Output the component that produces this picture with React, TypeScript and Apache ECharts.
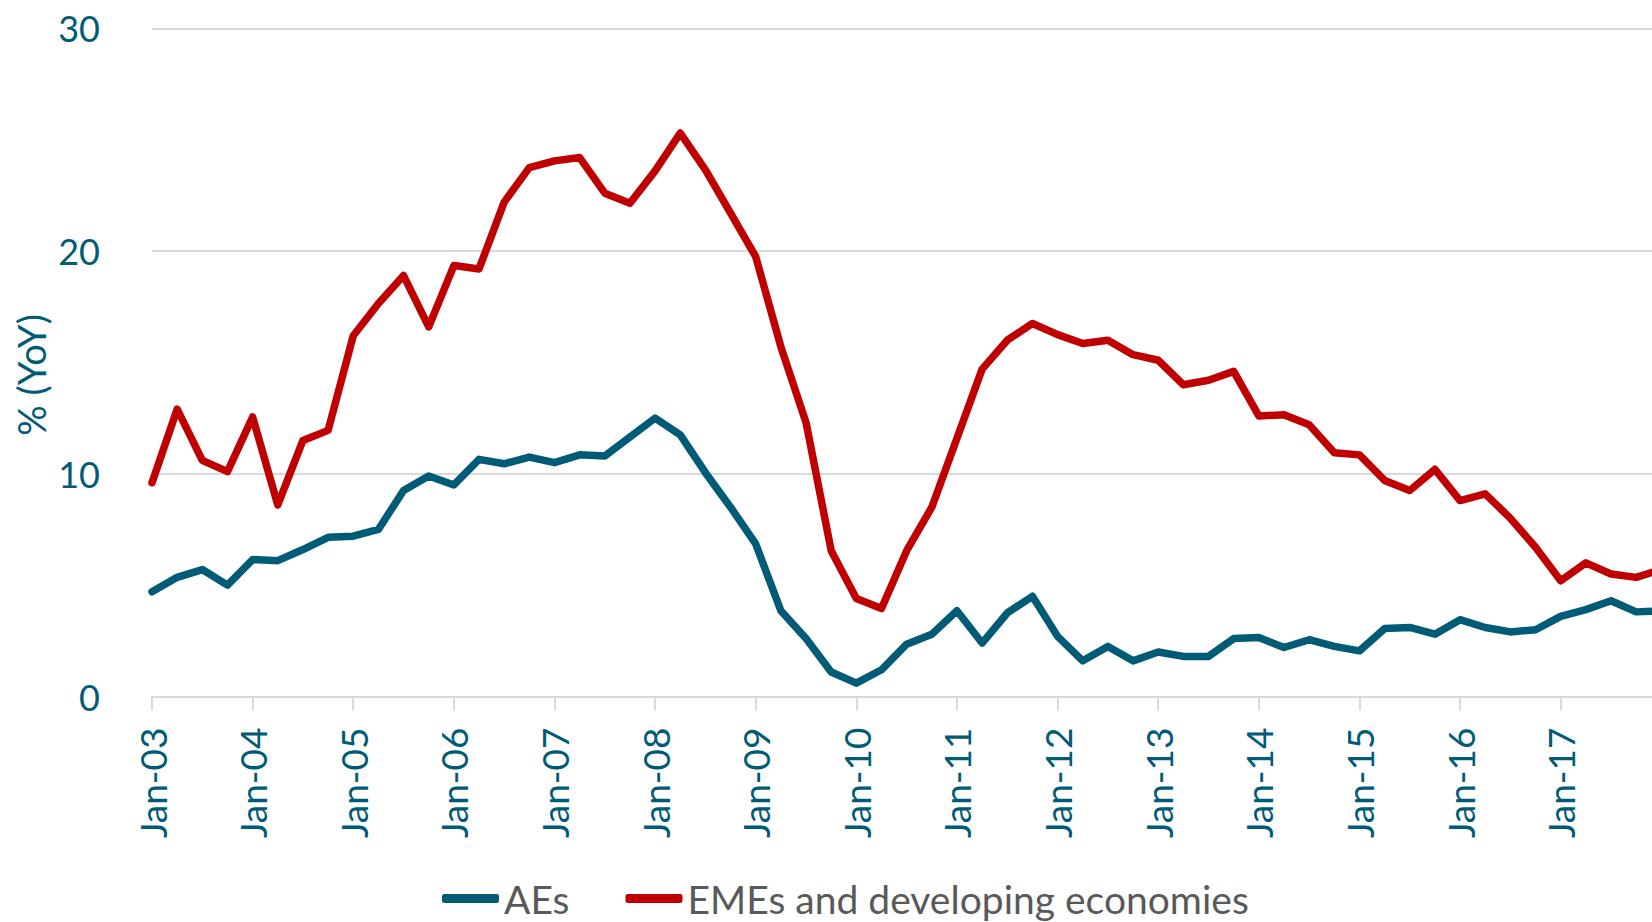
import React, { useEffect, useRef } from 'react';
import * as echarts from 'echarts';

// Quarterly observations, Jan-03 (index 0) through Jan-18 (index 60)
const aes = [
  4.7, 5.35, 5.7, 5.0, 6.15, 6.1, 6.6, 7.15, 7.2, 7.5,
  9.25, 9.9, 9.5, 10.65, 10.45, 10.75, 10.5, 10.85, 10.8, 11.65,
  12.5, 11.75, 10.05, 8.5, 6.85, 3.85, 2.6, 1.1, 0.6, 1.2,
  2.35, 2.8, 3.85, 2.4, 3.75, 4.5, 2.7, 1.6, 2.25, 1.6,
  2.0, 1.8, 1.8, 2.6, 2.65, 2.2, 2.55, 2.25, 2.05, 3.05,
  3.1, 2.8, 3.45, 3.1, 2.9, 3.0, 3.6, 3.9, 4.3, 3.8,
  3.85,
];

const emes = [
  9.6, 12.9, 10.6, 10.1, 12.55, 8.6, 11.5, 11.95, 16.2, 17.65,
  18.9, 16.6, 19.35, 19.2, 22.2, 23.75, 24.05, 24.2, 22.6, 22.15,
  23.6, 25.3, 23.65, 21.7, 19.75, 15.7, 12.3, 6.55, 4.4, 3.95,
  6.55, 8.5, 11.6, 14.7, 16.0, 16.75, 16.25, 15.85, 16.0, 15.35,
  15.1, 14.0, 14.2, 14.6, 12.6, 12.65, 12.2, 10.95, 10.85, 9.7,
  9.25, 10.2, 8.8, 9.1, 8.0, 6.7, 5.2, 6.0, 5.5, 5.35,
  5.7,
];

const xTickLabels = [
  'Jan-03', 'Jan-04', 'Jan-05', 'Jan-06', 'Jan-07', 'Jan-08', 'Jan-09', 'Jan-10',
  'Jan-11', 'Jan-12', 'Jan-13', 'Jan-14', 'Jan-15', 'Jan-16', 'Jan-17',
];
const quartersPerTick = 4;
const yTicks = [0, 10, 20, 30];
const seriesNames = ['AEs', 'EMEs and developing economies'];

const TEAL = '#005B76';
const RED = '#C00000';
const GRID = '#D9D9D9';
const FONT = 'Lato';

export default function App() {
  const ref = useRef<HTMLDivElement>(null);

  useEffect(() => {
    if (!ref.current) return;
    const chart = echarts.init(ref.current, null, { renderer: 'svg' });
    const tickPositions = xTickLabels.map((_, i) => i * quartersPerTick);
    const option: any = {
      animation: false,
      backgroundColor: '#ffffff',
      grid: { left: 152, right: 0, top: 28.4, bottom: 225.5, containLabel: false },
      xAxis: {
        type: 'value',
        min: 0,
        max: 59.63,
        interval: quartersPerTick,
        axisLine: { show: true, lineStyle: { color: GRID, width: 2 } },
        axisTick: {
          show: true,
          length: 14,
          customValues: tickPositions,
          lineStyle: { color: GRID, width: 2 },
        },
        axisLabel: {
          customValues: tickPositions,
          formatter: (v: number) => {
            const k = Math.round(v / quartersPerTick);
            return Math.abs(v - k * quartersPerTick) < 1e-6 && xTickLabels[k] ? xTickLabels[k] : '';
          },
          rotate: 90,
          margin: 31,
          color: TEAL,
          fontFamily: FONT,
          fontSize: 37,
        },
        splitLine: { show: false },
      },
      yAxis: {
        type: 'value',
        min: yTicks[0],
        max: yTicks[yTicks.length - 1],
        interval: 10,
        axisLine: { show: false },
        axisTick: { show: false },
        axisLabel: { margin: 52, color: TEAL, fontFamily: FONT, fontSize: 36 },
        splitLine: { show: true, lineStyle: { color: GRID, width: 2 } },
      },
      legend: {
        left: 437,
        top: 874,
        itemWidth: 57,
        itemHeight: 9,
        itemGap: 56,
        icon: 'roundRect',
        textStyle: { color: '#595959', fontFamily: FONT, fontSize: 39 },
        data: seriesNames,
      },
      graphic: [
        {
          type: 'text',
          x: 30.5,
          y: 375,
          rotation: Math.PI / 2,
          style: {
            text: '% (YoY)',
            fill: TEAL,
            font: `38px ${FONT}`,
            align: 'center',
            verticalAlign: 'middle',
          },
        },
      ],
      series: [
        {
          name: seriesNames[0],
          type: 'line',
          data: aes.map((v, i) => [i, v]),
          showSymbol: false,
          clip: true,
          color: TEAL,
          lineStyle: { color: TEAL, width: 7.5, cap: 'round', join: 'round' },
        },
        {
          name: seriesNames[1],
          type: 'line',
          data: emes.map((v, i) => [i, v]),
          showSymbol: false,
          clip: true,
          color: RED,
          lineStyle: { color: RED, width: 7.5, cap: 'round', join: 'round' },
        },
      ],
    };
    chart.setOption(option);
    return () => chart.dispose();
  }, []);

  return (
    <div
      ref={ref}
      style={{ position: 'fixed', left: 0, top: 0, width: 1652, height: 922, background: '#fff' }}
    />
  );
}
